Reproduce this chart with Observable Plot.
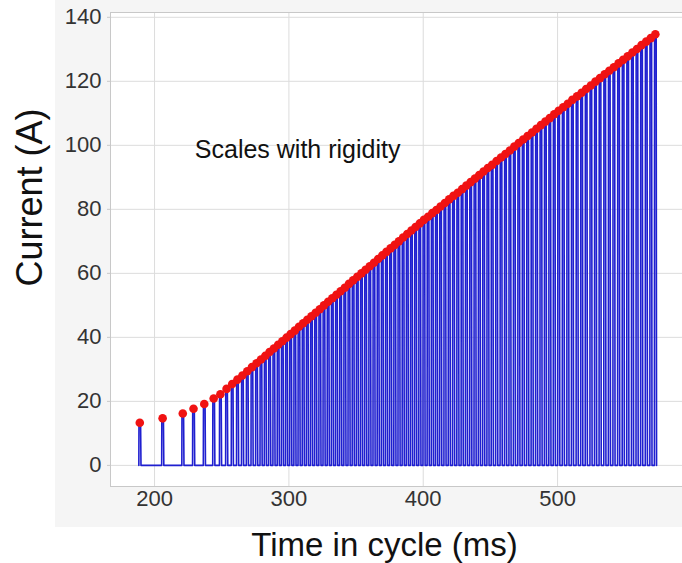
<!DOCTYPE html>
<html>
<head>
<meta charset="utf-8">
<script src="https://cdn.jsdelivr.net/npm/d3@7"></script>
<script src="https://cdn.jsdelivr.net/npm/@observablehq/plot@0.6"></script>
<style>
  body { margin: 0; background: #ffffff; }
  #wrap { position: relative; width: 682px; height: 563px; overflow: hidden; }
  #panel { position: absolute; left: 55px; top: 0; width: 627px; height: 527px; background: #f5f5f5; }
  #chart { position: absolute; left: 0; top: 0; }
</style>
</head>
<body>
<div id="wrap"><div id="panel"></div><div id="chart"></div></div>
<script>
// Pulse times (ms in cycle) and the peak current reached by each pulse (A)
const pulseTimes = [
  189, 206, 221, 229, 237, 244, 249,
  253.6, 257.8, 261.7, 265.4, 269.0, 272.5, 275.9, 279.2, 282.4, 285.6,
  288.8, 292.0, 295.1, 298.2, 301.3, 304.4, 307.5, 310.6, 313.7, 316.8,
  319.9, 323.0, 326.1, 329.2, 332.3, 335.4, 338.5, 341.6, 344.7, 347.8,
  350.9, 354.0, 357.1, 360.2, 363.3, 366.4, 369.5, 372.6, 375.7, 378.8,
  381.9, 385.0, 388.1, 391.2, 394.3, 397.4, 400.5, 403.6, 406.7, 409.8,
  412.9, 416.1, 419.3, 422.5, 425.7, 428.9, 432.1, 435.3, 438.5, 441.7,
  444.9, 448.1, 451.3, 454.6, 457.9, 461.2, 464.5, 467.8, 471.1, 474.4,
  477.7, 481.0, 484.3, 487.6, 490.9, 494.2, 497.5, 500.8, 504.2, 507.6,
  511.0, 514.5, 517.9, 521.3, 524.8, 528.2, 531.6, 535.1, 538.5, 541.9,
  545.4, 548.8, 552.2, 555.7, 559.1, 562.5, 566.0, 569.4, 572.8
];
const peakCurrents = [
  13.3, 14.7, 16.2, 17.7, 19.2, 20.9, 22.2,
  23.9, 25.4, 26.8, 28.1, 29.4, 30.7, 31.9, 33.1, 34.2, 35.4,
  36.5, 37.7, 38.8, 39.9, 41.0, 42.1, 43.3, 44.4, 45.5, 46.6,
  47.7, 48.8, 50.0, 51.1, 52.2, 53.3, 54.4, 55.5, 56.7, 57.8,
  58.9, 60.0, 61.1, 62.2, 63.3, 64.5, 65.6, 66.7, 67.8, 68.9,
  70.0, 71.2, 72.3, 73.4, 74.5, 75.6, 76.7, 77.7, 78.8, 79.8,
  80.9, 82.0, 83.1, 84.2, 85.2, 86.3, 87.4, 88.5, 89.6, 90.7,
  91.8, 92.9, 93.9, 95.1, 96.2, 97.3, 98.4, 99.6, 100.7, 101.8,
  102.9, 104.0, 105.2, 106.3, 107.4, 108.5, 109.7, 110.8, 111.9, 113.0,
  114.2, 115.3, 116.4, 117.6, 118.7, 119.9, 121.0, 122.2, 123.3, 124.4,
  125.6, 126.7, 127.8, 129.0, 130.1, 131.3, 132.4, 133.5, 134.7
];

const xTicks = [200, 300, 400, 500];
const yTicks = [0, 20, 40, 60, 80, 100, 120, 140];
const xDomain = [167.2, 593];
const yDomain = [-6.6, 141.5];

const xTitle = "Time in cycle (ms)";
const yTitle = "Current (A)";
const note = {text: "Scales with rigidity", t: 306.5, a: 98.6};

const pulses = pulseTimes.map((t, i) => ({t, a: peakCurrents[i]}));

// Each pulse: a steep rise from zero, a short flat top, then the fall back to zero
const trace = pulses.flatMap(p => [
  {t: p.t - 0.7, a: 0},
  {t: p.t - 0.6, a: p.a},
  {t: p.t + 0.6, a: p.a},
  {t: p.t + 0.9, a: 0}
]);

const font = "'Liberation Sans', Arial, Helvetica, sans-serif";
const gridColor = "#dcdcdc";
const frameColor = "#c8c8c8";

const chart = Plot.plot({
  width: 682,
  height: 563,
  marginLeft: 110,
  marginRight: 0,
  marginTop: 12,
  marginBottom: 77,
  style: {background: "transparent", fontFamily: font, overflow: "visible"},
  x: {domain: xDomain, axis: null},
  y: {domain: yDomain, axis: null},
  marks: [
    Plot.frame({fill: "white", stroke: null}),
    Plot.gridX(xTicks, {stroke: gridColor, strokeOpacity: 1}),
    Plot.gridY(yTicks, {stroke: gridColor, strokeOpacity: 1}),
    Plot.ruleX([xDomain[0]], {stroke: frameColor}),
    Plot.ruleY(yDomain, {stroke: frameColor}),
    Plot.axisY(yTicks, {tickSize: 3, tickPadding: 6, fontSize: 22, stroke: frameColor, fill: "#333", label: null}),
    Plot.axisX(xTicks, {tickSize: 0, tickPadding: 4, fontSize: 22, fill: "#333", label: null}),
    Plot.line(trace, {x: "t", y: "a", stroke: "#1f1fd0", strokeWidth: 1.6}),
    Plot.dot(pulses, {x: "t", y: "a", r: 4.3, fill: "#f01212"}),
    Plot.text([note], {x: "t", y: "a", text: "text", fontSize: 25, fill: "#111"}),
    Plot.text([xTitle], {frameAnchor: "bottom", textAnchor: "middle", lineAnchor: "middle", dx: -12, dy: 59, fontSize: 33, fill: "#111"}),
    Plot.text([yTitle], {frameAnchor: "left", textAnchor: "middle", lineAnchor: "middle", rotate: -90, dx: -80, dy: -52, fontSize: 36, fill: "#111"})
  ]
});

document.getElementById("chart").appendChild(chart);
</script>
</body>
</html>
